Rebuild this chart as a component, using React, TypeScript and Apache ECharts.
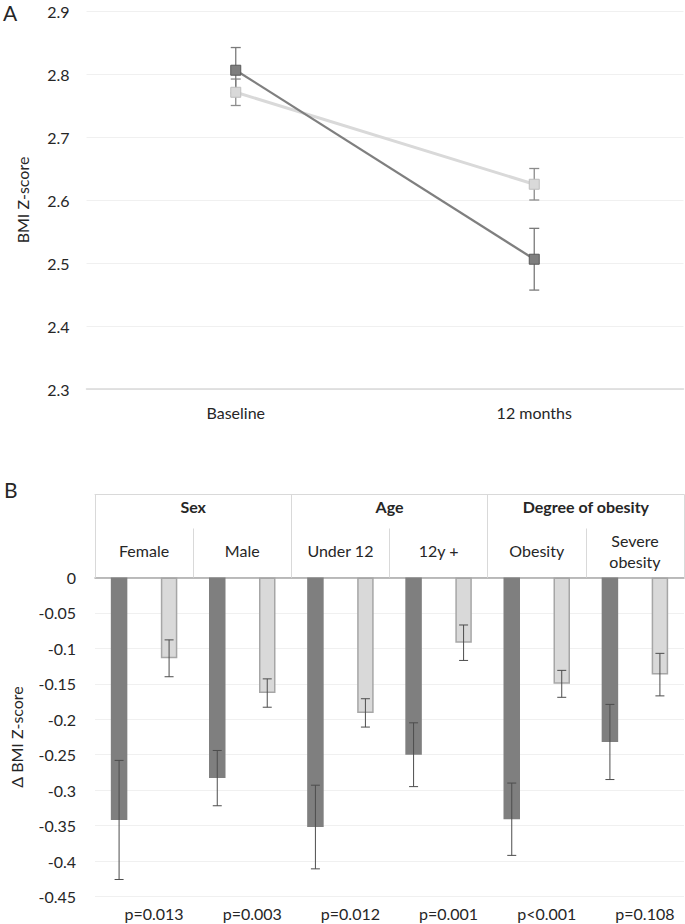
import React, { useEffect, useRef } from "react";
import * as echarts from "echarts";

// ---------- Panel A data ----------
const timePoints = ["Baseline", "12 months"];
const darkMeansA = [2.806, 2.506];
const darkErrA = [0.036, 0.049];
const lightMeansA = [2.771, 2.625];
const lightErrA = [0.021, 0.025];
const yMinA = 2.3;
const yMaxA = 2.9;
const yStepA = 0.1;

// ---------- Panel B data ----------
const groups = ["Sex", "Age", "Degree of obesity"];
const subgroups = ["Female", "Male", "Under 12", "12y +", "Obesity", "Severe\nobesity"];
const pValues = ["p=0.013", "p=0.003", "p=0.012", "p=0.001", "p<0.001", "p=0.108"];
const darkMeansB = [-0.342, -0.283, -0.352, -0.25, -0.341, -0.232];
const darkErrB = [0.084, 0.039, 0.059, 0.045, 0.051, 0.053];
const lightMeansB = [-0.114, -0.163, -0.191, -0.092, -0.15, -0.137];
const lightErrB = [0.026, 0.02, 0.02, 0.025, 0.019, 0.03];
const yMinB = -0.45;
const yMaxB = 0;
const yStepB = 0.05;

// ---------- styles ----------
const FONT = "Lato";
const TEXT = "#262626";
const DARK = "#7f7f7f";
const LIGHT = "#d9d9d9";
const BAR_W = 16.5;
const BAR_GAP = 2.03; // ratio of bar width
const PAIR_OFFSET = (BAR_W + BAR_W * BAR_GAP) / 2;

const errData = (means: number[], errs: number[]) =>
  means.map((m, i) => [i, m - errs[i], m + errs[i]]);

const makeErrRender =
  (offset: number, half: number, color: string, width: number) =>
  (_params: any, api: any) => {
    const i = api.value(0);
    const lo = api.coord([i, api.value(1)]);
    const hi = api.coord([i, api.value(2)]);
    const x = lo[0] + offset;
    const style = { stroke: color, lineWidth: width };
    return {
      type: "group",
      children: [
        { type: "line", shape: { x1: x, y1: hi[1], x2: x, y2: lo[1] }, style },
        { type: "line", shape: { x1: x - half, y1: hi[1], x2: x + half, y2: hi[1] }, style },
        { type: "line", shape: { x1: x - half, y1: lo[1], x2: x + half, y2: lo[1] }, style },
      ],
    };
  };

export default function App() {
  const ref = useRef<HTMLDivElement>(null);

  useEffect(() => {
    document.body.style.margin = "0";
    if (!ref.current) return;
    const chart = echarts.init(ref.current, undefined, { renderer: "svg" });

    const labelBase = { color: TEXT, fontFamily: FONT, fontSize: 16 };

    chart.setOption({
      animation: false,
      backgroundColor: "#ffffff",
      textStyle: { fontFamily: FONT },
      graphic: [
        { type: "text", left: 3, top: 2, style: { text: "A", fontSize: 21, fontFamily: FONT, fill: TEXT } },
        { type: "text", left: 4, top: 479, style: { text: "B", fontSize: 21, fontFamily: FONT, fill: TEXT } },
      ],
      grid: [
        { left: 86.5, top: 11, width: 597, height: 378, containLabel: false },
        { left: 89, top: 577.5, width: 595, height: 319, containLabel: false },
      ],
      xAxis: [
        {
          type: "category",
          gridIndex: 0,
          data: timePoints,
          position: "bottom",
          axisLine: { show: true, lineStyle: { color: LIGHT, width: 1.5 } },
          axisTick: { show: false },
          axisLabel: { ...labelBase, margin: 15, interval: 0 },
        },
        {
          type: "category",
          gridIndex: 1,
          data: subgroups,
          position: "top",
          axisLine: { show: true, lineStyle: { color: "#a6a6a6", width: 1.5 } },
          axisTick: { show: true, length: 49, lineStyle: { color: LIGHT, width: 1 } },
          axisLabel: { ...labelBase, margin: 27, verticalAlign: "middle", lineHeight: 21, interval: 0 },
        },
        {
          type: "category",
          gridIndex: 1,
          data: groups,
          position: "top",
          offset: 83,
          axisLine: { show: true, lineStyle: { color: LIGHT, width: 1 } },
          axisTick: { show: true, inside: true, length: 83, lineStyle: { color: LIGHT, width: 1 } },
          axisLabel: {
            ...labelBase,
            fontWeight: "bold",
            inside: true,
            margin: 12,
            verticalAlign: "middle",
            interval: 0,
          },
        },
        {
          type: "category",
          gridIndex: 1,
          data: pValues,
          position: "bottom",
          axisLine: { show: false },
          axisTick: { show: false },
          axisLabel: { ...labelBase, margin: 9, interval: 0, padding: [0, 0, 0, 20] },
        },
      ],
      yAxis: [
        {
          type: "value",
          gridIndex: 0,
          min: yMinA,
          max: yMaxA,
          interval: yStepA,
          name: "BMI Z-score",
          nameLocation: "middle",
          nameGap: 56,
          nameTextStyle: { ...labelBase },
          axisLine: { show: false },
          axisTick: { show: false },
          axisLabel: { ...labelBase, margin: 17, formatter: (v: number) => v.toFixed(1) },
          splitLine: { show: true, lineStyle: { color: "#f0f0f0", width: 1 } },
        },
        {
          type: "value",
          gridIndex: 1,
          min: yMinB,
          max: yMaxB,
          interval: yStepB,
          name: "Δ BMI Z-score",
          nameLocation: "middle",
          nameGap: 71,
          nameTextStyle: { ...labelBase },
          axisLine: { show: false },
          axisTick: { show: false },
          axisLabel: {
            ...labelBase,
            margin: 19,
            formatter: (v: number) => String(Number(v.toFixed(2))),
          },
          splitLine: { show: true, lineStyle: { color: "#f0f0f0", width: 1 } },
        },
      ],
      series: [
        // Panel A error bars (behind markers)
        {
          type: "custom",
          xAxisIndex: 0,
          yAxisIndex: 0,
          z: 1,
          renderItem: makeErrRender(0, 5, "#8c8c8c", 1.3),
          encode: { x: 0, y: [1, 2] },
          data: errData(lightMeansA, lightErrA),
        },
        {
          type: "custom",
          xAxisIndex: 0,
          yAxisIndex: 0,
          z: 1,
          renderItem: makeErrRender(0, 5, "#7a7a7a", 1.3),
          encode: { x: 0, y: [1, 2] },
          data: errData(darkMeansA, darkErrA),
        },
        {
          type: "line",
          xAxisIndex: 0,
          yAxisIndex: 0,
          z: 2,
          data: lightMeansA,
          symbol: "rect",
          symbolSize: 10,
          lineStyle: { color: LIGHT, width: 3 },
          itemStyle: { color: LIGHT, borderColor: "#bfbfbf", borderWidth: 1 },
        },
        {
          type: "line",
          xAxisIndex: 0,
          yAxisIndex: 0,
          z: 3,
          data: darkMeansA,
          symbol: "rect",
          symbolSize: 10,
          lineStyle: { color: DARK, width: 2.25 },
          itemStyle: { color: DARK, borderColor: "#595959", borderWidth: 1 },
        },
        // Panel B bars
        {
          type: "bar",
          xAxisIndex: 1,
          yAxisIndex: 1,
          data: darkMeansB,
          barWidth: BAR_W,
          barGap: `${Math.round(BAR_GAP * 100)}%`,
          itemStyle: { color: DARK },
        },
        {
          type: "bar",
          xAxisIndex: 1,
          yAxisIndex: 1,
          data: lightMeansB,
          barWidth: BAR_W,
          barGap: `${Math.round(BAR_GAP * 100)}%`,
          itemStyle: { color: LIGHT, borderColor: "#a6a6a6", borderWidth: 1.5 },
        },
        // Panel B error bars
        {
          type: "custom",
          xAxisIndex: 1,
          yAxisIndex: 1,
          z: 5,
          renderItem: makeErrRender(-PAIR_OFFSET, 4.5, "#4d4d4d", 1),
          encode: { x: 0, y: [1, 2] },
          data: errData(darkMeansB, darkErrB),
        },
        {
          type: "custom",
          xAxisIndex: 1,
          yAxisIndex: 1,
          z: 5,
          renderItem: makeErrRender(PAIR_OFFSET, 4.5, "#4d4d4d", 1),
          encode: { x: 0, y: [1, 2] },
          data: errData(lightMeansB, lightErrB),
        },
      ],
    });

    return () => chart.dispose();
  }, []);

  return <div ref={ref} style={{ width: 685, height: 924 }} />;
}
